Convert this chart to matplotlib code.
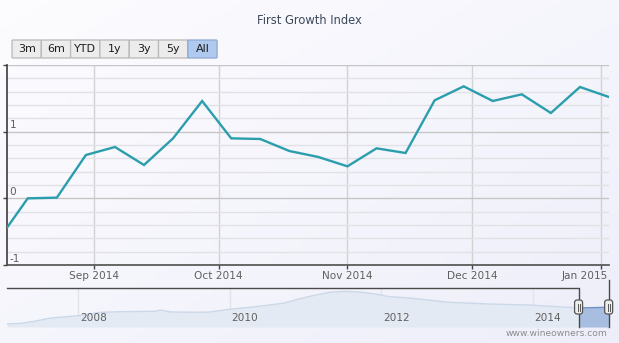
#!/usr/bin/env python3
# First Growth Index: weekly index line with range buttons and a history navigator.

import numpy as np
import pandas as pd
import matplotlib
matplotlib.use("Agg")
import matplotlib.pyplot as plt
import matplotlib.dates as mdates
import matplotlib.transforms as mtrans
from matplotlib.patches import FancyBboxPatch

# ── data ─────────────────────────────────────────────────────────────────────
week_dates = pd.to_datetime([
    "2014-08-11", "2014-08-16", "2014-08-23", "2014-08-30", "2014-09-06",
    "2014-09-13", "2014-09-20", "2014-09-27", "2014-10-04", "2014-10-11",
    "2014-10-18", "2014-10-25", "2014-11-01", "2014-11-08", "2014-11-15",
    "2014-11-22", "2014-11-29", "2014-12-06", "2014-12-13", "2014-12-20",
    "2014-12-27", "2015-01-03",
])
index_values = [
    -0.44, 0.00, 0.01, 0.65, 0.77, 0.50, 0.90, 1.46, 0.90, 0.89, 0.71,
    0.62, 0.48, 0.75, 0.68, 1.47, 1.68, 1.46, 1.56, 1.28, 1.67, 1.52,
]

# full history shown in the navigator strip (decimal year, index level)
nav_years = [
    2007.06, 2007.25, 2007.42, 2007.64, 2008.00, 2008.30, 2008.56, 2009.02,
    2009.09, 2009.22, 2009.61, 2009.74, 2010.00, 2010.27, 2010.53, 2010.73,
    2010.86, 2011.06, 2011.32, 2011.52, 2011.72, 2011.98, 2012.11, 2012.37,
    2012.90, 2013.42, 2013.95, 2014.34, 2014.61, 2015.01,
]
nav_level = [
    3.0, 3.7, 5.7, 9.0, 11.3, 14.7, 15.3, 15.7, 17.0, 15.0, 14.7, 15.0,
    17.7, 19.7, 22.0, 24.0, 27.0, 30.7, 34.7, 35.7, 35.0, 32.3, 30.3, 29.0,
    24.7, 23.0, 22.0, 20.3, 19.0, 19.7,
]
nav_year_ticks = [2008, 2010, 2012, 2014]

range_buttons = ["3m", "6m", "YTD", "1y", "3y", "5y", "All"]
selected_button = "All"

TITLE = "First Growth Index"
CREDIT = "www.wineowners.com"

# ── styling ──────────────────────────────────────────────────────────────────
W, H = 619, 343
LINE_C = "#2b9ead"
TEXT_C = "#606060"
FONT = "DejaVu Sans"
plt.rcParams["font.family"] = FONT


def px_box(x0, y0, x1, y1):
    """Figure-fraction rect from pixel edges (y measured from top)."""
    return [x0 / W, 1 - y1 / H, (x1 - x0) / W, (y1 - y0) / H]


def dec_year(ts):
    start = pd.Timestamp(year=ts.year, month=1, day=1)
    return ts.year + (ts - start).days / 365.0


fig = plt.figure(figsize=(W / 100, H / 100), dpi=100)

# soft background wash
bg = fig.add_axes([0, 0, 1, 1], zorder=-5)
gx, gy = np.meshgrid(np.linspace(0, 1, 64), np.linspace(0, 1, 64))
g = 0.5 * gx + 0.5 * gy
c0 = np.array([0.99, 0.99, 1.0])
c1 = np.array([0.935, 0.935, 0.98])
bg.imshow(c0 + (c1 - c0) * g[..., None], aspect="auto", extent=[0, 1, 1, 0])
bg.set_xlim(0, 1); bg.set_ylim(1, 0)
bg.axis("off")

# ── main plot ────────────────────────────────────────────────────────────────
ax = fig.add_axes(px_box(7, 65, 609, 265))
ax.set_facecolor("none")
ax.plot(week_dates, index_values, color=LINE_C, lw=1.7, zorder=3,
        solid_joinstyle="miter", clip_on=True)
ax.set_xlim(week_dates[0], week_dates[-1])
ax.set_ylim(-1, 2)

ax.xaxis.set_major_locator(mdates.MonthLocator())
ax.xaxis.set_major_formatter(mdates.DateFormatter("%b %Y"))
ax.set_yticks([-1, 0, 1, 2])
ax.set_yticks(np.arange(-1, 2.01, 0.2), minor=True)
ax.set_yticklabels([])
ax.grid(True, which="major", axis="y", color="#c6c6c6", lw=1.0)
ax.grid(True, which="minor", axis="y", color="#e1e1e6", lw=1.0)
ax.grid(True, which="major", axis="x", color="#d2d2d2", lw=1.0)
ax.tick_params(axis="x", length=3, width=1, color="#444444", pad=1,
               labelsize=7.6, labelcolor=TEXT_C)
ax.tick_params(axis="y", which="major", length=3, width=1, color="#444444")
ax.tick_params(axis="y", which="minor", length=0)
for s in ("top", "right"):
    ax.spines[s].set_visible(False)
ax.spines["left"].set_color("#3c3c3c")
ax.spines["bottom"].set_color("#505050")
ax.spines["left"].set_linewidth(1.2)
ax.spines["bottom"].set_linewidth(1.2)

# keep the last month label inside the chart edge
fig.canvas.draw()
last_lab = ax.get_xticklabels()[-1]
last_lab.set_horizontalalignment("right")
last_lab.set_transform(last_lab.get_transform()
                       + mtrans.ScaledTranslation(7 / 100, 0, fig.dpi_scale_trans))

# value labels sit inside the plot just above their grid line
ytr = ax.get_yaxis_transform()
for v in (-1, 0, 1):
    ax.text(0.004, v + 0.02, f"{v}", transform=ytr, ha="left", va="bottom",
            fontsize=7.6, color=TEXT_C)

# ── navigator ────────────────────────────────────────────────────────────────
NAV_X0, NAV_X1 = 7, 609
NAV_TOP, NAV_BOT = 288, 327
nav = fig.add_axes(px_box(NAV_X0, NAV_TOP, NAV_X1, NAV_BOT))
nav.set_facecolor("none")
nav_x = np.array(nav_years)
nav_y = np.array(nav_level)
yr_lo, yr_hi = nav_x[0], nav_x[-1]
nav.set_xlim(yr_lo, yr_hi)
nav.set_ylim(0, 39)
nav.axis("off")

lab_tr = nav.get_xaxis_transform() + mtrans.ScaledTranslation(
    2 / 100, 0, fig.dpi_scale_trans)
for yr in nav_year_ticks:
    nav.axvline(yr, color="#e3e3e8", lw=1, zorder=1)
    nav.text(yr, 0.23, f"{yr}", transform=lab_tr,
             ha="left", va="center", fontsize=7.6, color=TEXT_C, zorder=4)

sel_lo = dec_year(week_dates[0])
sel_hi = dec_year(week_dates[-1])
inside = (nav_x >= sel_lo - 1e-6)
nav.fill_between(nav_x, nav_y, 0, color="#e4eaf3", lw=0, zorder=2)
nav.plot(nav_x, nav_y, color="#cbd8e8", lw=1, zorder=2)
nav.fill_between(nav_x, nav_y, 0, where=inside, color="#a7bee1", lw=0, zorder=3)
nav.plot(nav_x[inside], nav_y[inside], color="#6f8fc6", lw=1, zorder=3)

# outline around the zoomed window
nav.plot([yr_lo, sel_lo, sel_lo], [39, 39, 0], color="#4a4a4a", lw=1,
         zorder=5, clip_on=False)
nav.plot([sel_hi, sel_hi], [0, 39 + 8], color="#4a4a4a", lw=1, zorder=5,
         clip_on=False)

# ── overlay: title, buttons, handles, credit ────────────────────────────────
ov = fig.add_axes([0, 0, 1, 1], zorder=5)
ov.set_xlim(0, W); ov.set_ylim(H, 0)
ov.axis("off")
ov.patch.set_alpha(0)

ov.text(W / 2, 20, TITLE, ha="center", va="center", fontsize=8.3,
        color="#3c4a5c")

bx, bw, by, bh = 12, 29.3, 40, 18
for i, lab in enumerate(range_buttons):
    on = lab == selected_button
    ov.add_patch(FancyBboxPatch((bx + i * bw, by), bw, bh,
                                boxstyle="round,pad=0,rounding_size=1",
                                fc="#afc9ef" if on else "#ececec",
                                ec="#8ea9d2" if on else "#b8b8b8", lw=0.9))
    ov.text(bx + i * bw + bw / 2, by + bh / 2 + 0.5, lab, ha="center",
            va="center", fontsize=8, color="#1e1e1e")

span = NAV_X1 - NAV_X0
for yr in (sel_lo, sel_hi):
    hx = NAV_X0 + (yr - yr_lo) / (yr_hi - yr_lo) * span
    ov.add_patch(FancyBboxPatch((hx - 4, 300), 8, 14,
                                boxstyle="round,pad=0,rounding_size=2.5",
                                fc="#ededed", ec="#555555", lw=0.9))
    ov.plot([hx - 1, hx - 1], [303.5, 310.5], color="#555555", lw=0.7)
    ov.plot([hx + 1, hx + 1], [303.5, 310.5], color="#555555", lw=0.7)

ov.text(607, 334, CREDIT, ha="right", va="center", fontsize=6.6,
        color="#8c8c8c")

fig.savefig("out.png", dpi=100)
plt.close(fig)
